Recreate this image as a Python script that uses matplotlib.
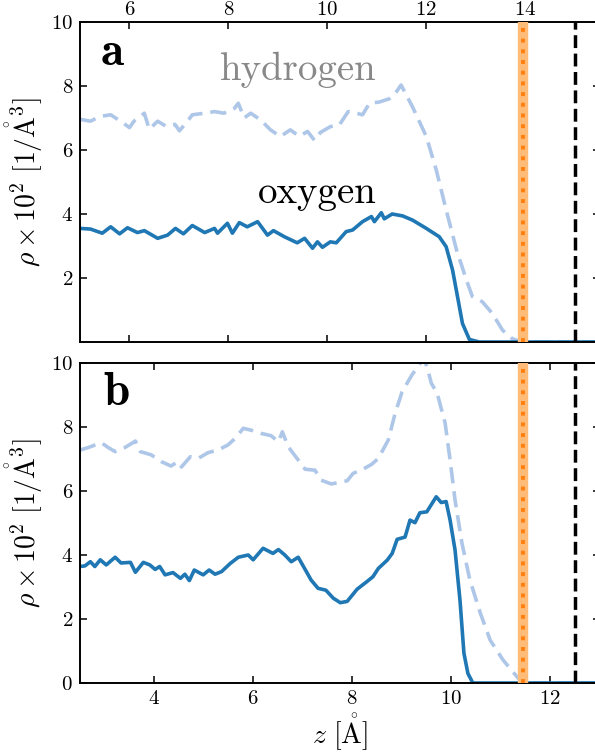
import matplotlib
matplotlib.use("Agg")
import matplotlib.pyplot as plt

plt.rcParams['font.family'] = 'cmr10'
plt.rcParams['mathtext.fontset'] = 'cm'
plt.rcParams['axes.formatter.use_mathtext'] = True

# panel a (top axis coordinates)
xa_O = [5.00, 5.21, 5.45, 5.62, 5.80, 5.96, 6.16, 6.30, 6.57, 6.77, 6.93, 7.09, 7.27, 7.52, 7.72, 7.78,
        7.98, 8.08, 8.22, 8.38, 8.59, 8.79, 8.91, 9.13, 9.39, 9.54, 9.70, 9.80, 9.90, 10.06, 10.18, 10.38,
        10.51, 10.71, 10.89, 10.95, 11.09, 11.15, 11.31, 11.52, 11.72, 12.00, 12.26, 12.40, 12.53, 12.63,
        12.73, 12.87, 13.07, 15.5]
ya_O = [3.55, 3.53, 3.40, 3.60, 3.38, 3.57, 3.42, 3.48, 3.24, 3.34, 3.55, 3.38, 3.64, 3.42, 3.55, 3.40,
        3.71, 3.40, 3.73, 3.60, 3.76, 3.34, 3.48, 3.29, 3.10, 3.24, 2.93, 3.13, 2.96, 3.13, 3.10, 3.45,
        3.50, 3.76, 3.92, 3.76, 4.04, 3.85, 4.00, 3.94, 3.81, 3.55, 3.29, 2.98, 2.25, 1.42,
        0.58, 0.08, 0.0, 0.0]
xa_H = [5.00, 5.21, 5.41, 5.62, 5.82, 6.00, 6.09, 6.30, 6.40, 6.57, 6.73, 6.92, 7.01, 7.17, 7.27, 7.52,
        7.72, 7.91, 8.12, 8.20, 8.32, 8.45, 8.65, 8.85, 9.05, 9.25, 9.43, 9.60, 9.74, 9.86, 10.06, 10.24,
        10.42, 10.59, 10.71, 10.85, 11.05, 11.25, 11.35, 11.49, 11.72, 12.00, 12.20, 12.40, 12.61, 12.81,
        12.93, 13.13, 13.33, 13.54, 13.74, 13.94, 15.5]
ya_H = [6.96, 6.90, 7.05, 7.10, 6.90, 6.70, 6.90, 7.15, 6.65, 6.90, 6.75, 6.80, 6.60, 6.90, 7.10, 7.15,
        7.20, 7.15, 7.30, 7.46, 7.00, 7.15, 6.94, 6.63, 6.42, 6.63, 6.43, 6.58, 6.30, 6.55, 6.73, 6.78,
        7.20, 7.15, 7.10, 7.46, 7.50, 7.60, 7.72, 8.03, 7.35, 6.42, 5.38, 4.13, 2.88, 1.94,
        1.42, 1.26, 0.90, 0.37, 0.10, 0.0, 0.0]

# panel b
xb_H = [2.50, 2.67, 2.93, 3.07, 3.21, 3.41, 3.62, 3.72, 3.94, 4.14, 4.34, 4.48, 4.55, 4.73, 4.89, 5.09,
        5.29, 5.49, 5.64, 5.80, 5.96, 6.16, 6.36, 6.51, 6.59, 6.71, 6.91, 7.05, 7.25, 7.37, 7.58, 7.90,
        8.02, 8.22, 8.40, 8.53, 8.73, 8.87, 9.01, 9.21, 9.45, 9.52, 9.60, 9.72, 9.88, 9.98, 10.08, 10.22,
        10.38, 10.59, 10.79, 11.05, 11.33, 11.45, 13.0]
yb_H = [7.28, 7.36, 7.51, 7.36, 7.23, 7.36, 7.56, 7.23, 7.13, 6.92, 6.78, 6.92, 6.75, 7.07, 7.02, 7.20,
        7.28, 7.44, 7.65, 7.96, 7.90, 7.80, 7.73, 7.54, 7.85, 7.38, 6.97, 6.68, 6.65, 6.34, 6.22, 6.32,
        6.55, 6.68, 6.84, 7.02, 7.59, 8.43, 9.10, 9.63, 10.15, 9.85, 9.37, 9.05, 8.12, 6.97, 5.72, 4.37,
        3.22, 2.19, 1.34, 0.72, 0.20, 0.0, 0.0]
xb_O = [2.50, 2.60, 2.71, 2.80, 2.91, 3.03, 3.21, 3.33, 3.52, 3.62, 3.78, 3.91, 4.02, 4.11, 4.22, 4.38,
        4.53, 4.62, 4.71, 4.81, 4.99, 5.11, 5.23, 5.36, 5.54, 5.70, 5.90, 6.00, 6.20, 6.40, 6.51, 6.64,
        6.77, 6.91, 7.05, 7.17, 7.31, 7.47, 7.62, 7.76, 7.90, 8.10, 8.30, 8.42, 8.53, 8.71, 8.81, 8.91,
        9.07, 9.17, 9.27, 9.37, 9.51, 9.70, 9.80, 9.90, 9.98, 10.08, 10.18, 10.26, 10.34, 10.44, 13.0]
yb_O = [3.64, 3.66, 3.79, 3.64, 3.85, 3.69, 3.93, 3.75, 3.77, 3.46, 3.77, 3.69, 3.55, 3.64, 3.38, 3.45,
        3.27, 3.40, 3.20, 3.53, 3.38, 3.53, 3.40, 3.48, 3.74, 3.93, 4.00, 3.85, 4.21, 4.05, 4.17, 4.00,
        3.79, 3.93, 3.55, 3.22, 2.96, 2.90, 2.65, 2.51, 2.55, 2.93, 3.17, 3.32, 3.58, 3.84, 4.05, 4.49,
        4.56, 5.09, 5.01, 5.32, 5.35, 5.82, 5.64, 5.67, 5.09, 4.16, 2.59, 0.93, 0.30, 0.0, 0.0]

# vertical markers (orange = interface, black = wall)
orange_a, wall_a = 13.95, 15.0
orange_b, wall_b = 11.45, 12.5

c_O = '#1f77b4'
c_H = '#aec7e8'
ylab = r'$\rho \times 10^2\ [1/\mathring{\mathrm{A}}^3]$'

fig = plt.figure(figsize=(5.95, 7.52), dpi=100)
ax_a = fig.add_axes([80/595, 410/752, 519.5/595, 320/752])
ax_b = fig.add_axes([80/595, 69/752, 519.5/595, 320/752])


def style(ax):
    for s in ax.spines.values():
        s.set_linewidth(1.4)
    ax.tick_params(direction='in', top=True, right=True, length=5, width=1.1,
                   labelsize=15, pad=5, labelright=False)
    ax.set_ylim(0, 10)
    ax.set_ylabel(ylab, fontsize=20, labelpad=4)


def markers(ax, xo, xw):
    ax.axvline(xo, color='#ffbb78', lw=7.5, zorder=3)
    ax.axvline(xo, color='#ff7f0e', lw=2.8, ls=(0, (1, 1.75)), zorder=4)
    ax.axvline(xw, color='k', lw=2.5, ls='--', zorder=4)


# ---- panel a
ax_a.plot(xa_H, ya_H, color=c_H, lw=2.6, dashes=(4.5, 2.2))
ax_a.plot(xa_O, ya_O, color=c_O, lw=2.6)
markers(ax_a, orange_a, wall_a)
ax_a.set_xlim(5.0, 15.5)
ax_a.set_xticks([6, 8, 10, 12, 14])
ax_a.set_yticks([2, 4, 6, 8, 10])
style(ax_a)
ax_a.tick_params(axis='x', labeltop=True, labelbottom=False, pad=2)
ax_a.text(0.038, 0.866, r'$\mathbf{a}$', transform=ax_a.transAxes, fontsize=34)
ax_a.text(7.82, 8.19, 'hydrogen', color='#888888', fontsize=28)
ax_a.text(8.59, 4.34, 'oxygen', color='k', fontsize=28)

# ---- panel b
ax_b.plot(xb_H, yb_H, color=c_H, lw=2.6, dashes=(4.5, 2.2))
ax_b.plot(xb_O, yb_O, color=c_O, lw=2.6)
markers(ax_b, orange_b, wall_b)
ax_b.set_xlim(2.5, 13.0)
ax_b.set_xticks([4, 6, 8, 10, 12])
ax_b.set_yticks([0, 2, 4, 6, 8, 10])
style(ax_b)
ax_b.text(0.044, 0.869, r'$\mathbf{b}$', transform=ax_b.transAxes, fontsize=34)
ax_b.set_xlabel(r'$z\ [\mathring{\mathrm{A}}]$', fontsize=20, labelpad=2)

fig.savefig('out.png', dpi=100)
